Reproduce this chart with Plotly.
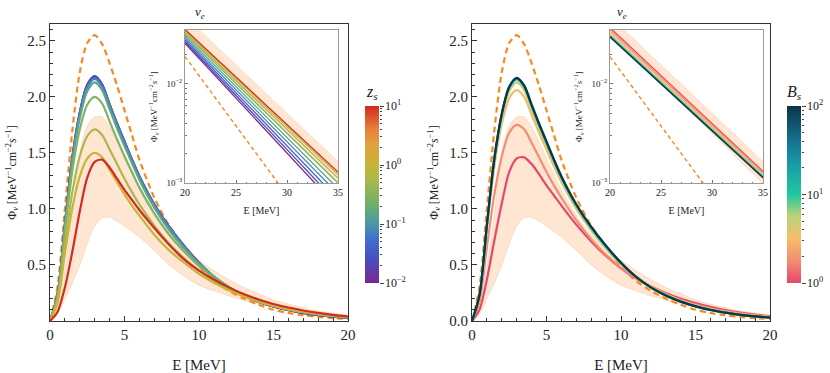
import math
import plotly.graph_objects as go
from plotly.colors import sample_colorscale

# ---- data ----
E = [0, 0.5, 1, 1.5, 2, 2.5, 3, 3.5, 4, 4.5, 5, 5.5, 6, 7, 8, 9, 10, 11, 12, 13, 14, 15, 16, 17, 18, 19, 20]

flux_ref = [0, 0.30, 1.00, 1.70, 2.22, 2.48, 2.55, 2.47, 2.30, 2.10, 1.88, 1.66, 1.44, 1.10, 0.85, 0.66,
            0.49, 0.36, 0.27, 0.20, 0.145, 0.10, 0.072, 0.051, 0.036, 0.026, 0.019]
band_hi = [0, 0.14, 0.48, 0.95, 1.50, 1.74, 1.82, 1.82, 1.73, 1.60, 1.45, 1.31, 1.17, 0.94, 0.77, 0.64,
           0.54, 0.45, 0.37, 0.30, 0.245, 0.19, 0.15, 0.118, 0.09, 0.07, 0.053]
band_lo = [0, 0.06, 0.20, 0.34, 0.50, 0.69, 0.85, 0.92, 0.925, 0.89, 0.85, 0.80, 0.75, 0.63, 0.50, 0.40,
           0.32, 0.27, 0.225, 0.185, 0.155, 0.125, 0.10, 0.08, 0.064, 0.05, 0.04]

z_s = [0.01, 0.02, 0.04, 0.08, 0.15, 0.3, 0.6, 1.0, 10]
flux_z = [
    [0, 0.23, 0.86, 1.46, 1.86, 2.11, 2.185, 2.11, 1.93, 1.76, 1.60, 1.44, 1.29, 1.04, 0.84, 0.67, 0.52, 0.39, 0.295, 0.225, 0.17, 0.128, 0.096, 0.071, 0.053, 0.039, 0.028],
    [0, 0.23, 0.86, 1.46, 1.86, 2.10, 2.18, 2.11, 1.93, 1.76, 1.60, 1.44, 1.29, 1.04, 0.84, 0.67, 0.52, 0.39, 0.297, 0.227, 0.172, 0.13, 0.098, 0.073, 0.054, 0.040, 0.029],
    [0, 0.23, 0.86, 1.45, 1.85, 2.10, 2.175, 2.10, 1.93, 1.76, 1.60, 1.44, 1.29, 1.04, 0.84, 0.67, 0.52, 0.395, 0.30, 0.23, 0.175, 0.133, 0.10, 0.075, 0.056, 0.041, 0.030],
    [0, 0.23, 0.85, 1.44, 1.84, 2.08, 2.16, 2.09, 1.92, 1.75, 1.59, 1.43, 1.28, 1.03, 0.83, 0.66, 0.515, 0.395, 0.30, 0.232, 0.178, 0.136, 0.103, 0.078, 0.058, 0.043, 0.031],
    [0, 0.22, 0.84, 1.42, 1.81, 2.05, 2.13, 2.06, 1.89, 1.72, 1.56, 1.41, 1.26, 1.01, 0.81, 0.65, 0.51, 0.395, 0.305, 0.235, 0.18, 0.138, 0.105, 0.080, 0.060, 0.045, 0.033],
    [0, 0.21, 0.79, 1.34, 1.71, 1.93, 2.00, 1.94, 1.78, 1.62, 1.47, 1.33, 1.19, 0.96, 0.77, 0.62, 0.49, 0.385, 0.30, 0.233, 0.18, 0.138, 0.106, 0.081, 0.062, 0.047, 0.034],
    [0, 0.18, 0.68, 1.15, 1.47, 1.65, 1.71, 1.66, 1.53, 1.40, 1.27, 1.15, 1.04, 0.85, 0.69, 0.56, 0.45, 0.36, 0.285, 0.225, 0.175, 0.135, 0.104, 0.080, 0.062, 0.047, 0.035],
    [0, 0.16, 0.60, 1.01, 1.29, 1.45, 1.50, 1.46, 1.35, 1.24, 1.13, 1.03, 0.94, 0.77, 0.63, 0.52, 0.42, 0.34, 0.275, 0.22, 0.172, 0.134, 0.104, 0.081, 0.063, 0.048, 0.036],
    [0, 0.08, 0.30, 0.62, 0.98, 1.28, 1.42, 1.44, 1.37, 1.27, 1.17, 1.08, 0.99, 0.83, 0.68, 0.55, 0.45, 0.37, 0.30, 0.24, 0.192, 0.152, 0.12, 0.094, 0.072, 0.054, 0.040],
]

B_s = [1, 1.8, 3, 5, 10, 30, 100]
flux_b = [
    [0, 0.10, 0.37, 0.72, 1.05, 1.33, 1.45, 1.46, 1.40, 1.31, 1.21, 1.12, 1.03, 0.86, 0.71, 0.58, 0.47, 0.38, 0.31, 0.25, 0.20, 0.16, 0.126, 0.098, 0.076, 0.058, 0.043],
    [0, 0.17, 0.66, 1.13, 1.47, 1.68, 1.75, 1.71, 1.59, 1.46, 1.33, 1.21, 1.10, 0.90, 0.73, 0.59, 0.475, 0.38, 0.305, 0.24, 0.188, 0.147, 0.114, 0.088, 0.068, 0.052, 0.039],
    [0, 0.22, 0.82, 1.38, 1.76, 1.99, 2.06, 2.00, 1.84, 1.68, 1.53, 1.38, 1.24, 1.00, 0.81, 0.65, 0.51, 0.40, 0.31, 0.237, 0.182, 0.14, 0.107, 0.081, 0.062, 0.047, 0.035],
    [0, 0.22, 0.84, 1.42, 1.81, 2.05, 2.13, 2.06, 1.89, 1.72, 1.56, 1.41, 1.26, 1.01, 0.81, 0.65, 0.51, 0.395, 0.303, 0.232, 0.177, 0.135, 0.102, 0.077, 0.058, 0.043, 0.032],
    [0, 0.23, 0.85, 1.44, 1.84, 2.08, 2.155, 2.09, 1.92, 1.75, 1.59, 1.43, 1.28, 1.03, 0.83, 0.66, 0.515, 0.395, 0.30, 0.23, 0.175, 0.133, 0.10, 0.076, 0.057, 0.042, 0.031],
    [0, 0.23, 0.86, 1.45, 1.85, 2.09, 2.165, 2.10, 1.93, 1.76, 1.60, 1.44, 1.29, 1.04, 0.84, 0.67, 0.52, 0.395, 0.30, 0.229, 0.174, 0.132, 0.099, 0.075, 0.056, 0.041, 0.030],
    [0, 0.23, 0.86, 1.45, 1.85, 2.09, 2.17, 2.10, 1.93, 1.76, 1.60, 1.44, 1.29, 1.04, 0.84, 0.67, 0.52, 0.395, 0.30, 0.228, 0.173, 0.131, 0.098, 0.074, 0.055, 0.041, 0.030],
]

# inset: high-energy tail, 20 -> 35 MeV
E_in = [20, 35]
ref_in = [0.0189, 1.5e-4]
band_hi_in = [0.048, 1.65e-3]
band_lo_in = [0.033, 0.98e-3]
tail_z = [[0.0258, 5.6e-4], [0.0268, 6.2e-4], [0.0280, 6.9e-4], [0.0293, 7.8e-4], [0.0308, 8.8e-4],
          [0.0322, 1.0e-3], [0.0335, 1.12e-3], [0.0345, 1.22e-3], [0.0355, 1.29e-3]]
tail_b = [[0.0370, 1.31e-3], [0.0352, 1.26e-3], [0.0335, 1.22e-3], [0.0318, 1.18e-3],
          [0.0308, 1.16e-3], [0.0302, 1.14e-3], [0.0298, 1.13e-3]]

# ---- styling ----
W, H = 830, 373
FONT = "Liberation Serif"
ORANGE = "#f78a1e"
BAND = "rgba(253,196,150,0.42)"
BAND_EDGE = "rgba(250,190,140,0.55)"

Z_SCALE = [[0, "#7a2890"], [0.13, "#4a4cc0"], [0.25, "#3f6fd0"], [0.333, "#4a98a8"], [0.45, "#70b068"],
           [0.58, "#a8b850"], [0.667, "#c8b438"], [0.78, "#e0a040"], [0.87, "#e8803a"], [1, "#d42a20"]]
B_SCALE = [[0, "#e8466a"], [0.12, "#f38a72"], [0.25, "#f7bd6a"], [0.38, "#b8d27a"], [0.5, "#22c89e"],
           [0.65, "#1aa0a8"], [0.8, "#157391"], [1, "#0c3547"]]


def px_x(p):
    return p / W


def px_y(p):
    return (H - p) / H


def colour(scale, v, lo, hi):
    return sample_colorscale(scale, [(math.log10(v) - lo) / (hi - lo)])[0]


fig = go.Figure()


def add_panel(xa, ya, xi, yi, values, tails, scale, lo, hi):
    # main panel: band, reference, family of curves
    fig.add_trace(go.Scatter(x=E, y=band_lo, xaxis=xa, yaxis=ya, mode="lines",
                             line=dict(color=BAND_EDGE, width=0.8, shape="spline", smoothing=0.8)))
    fig.add_trace(go.Scatter(x=E, y=band_hi, xaxis=xa, yaxis=ya, mode="lines", fill="tonexty",
                             fillcolor=BAND,
                             line=dict(color=BAND_EDGE, width=0.8, shape="spline", smoothing=0.8)))
    fig.add_trace(go.Scatter(x=E, y=flux_ref, xaxis=xa, yaxis=ya, mode="lines",
                             line=dict(color=ORANGE, width=2.2, dash="6px,4px", shape="spline", smoothing=0.8)))
    for v, ys in values:
        fig.add_trace(go.Scatter(x=E, y=ys, xaxis=xa, yaxis=ya, mode="lines",
                                 line=dict(color=colour(scale, v, lo, hi), width=2.2,
                                           shape="spline", smoothing=0.8)))
    # inset
    fig.add_trace(go.Scatter(x=E_in, y=band_lo_in, xaxis=xi, yaxis=yi, mode="lines",
                             line=dict(color=BAND_EDGE, width=0.6)))
    fig.add_trace(go.Scatter(x=E_in, y=band_hi_in, xaxis=xi, yaxis=yi, mode="lines", fill="tonexty",
                             fillcolor=BAND, line=dict(color=BAND_EDGE, width=0.6)))
    fig.add_trace(go.Scatter(x=E_in, y=ref_in, xaxis=xi, yaxis=yi, mode="lines",
                             line=dict(color=ORANGE, width=1.4, dash="4px,3px")))
    for v, ys in tails:
        fig.add_trace(go.Scatter(x=E_in, y=ys, xaxis=xi, yaxis=yi, mode="lines",
                                 line=dict(color=colour(scale, v, lo, hi), width=1.3)))


add_panel("x", "y", "x3", "y3", list(zip(z_s, flux_z)), list(zip(z_s, tail_z)), Z_SCALE, -2, 1)
add_panel("x2", "y2", "x4", "y4", list(zip(B_s, flux_b)), list(zip(B_s, tail_b)), B_SCALE, 0, 2)

# dummy traces carrying the two colour bars, and the tick axes drawn beside them
fig.add_trace(go.Scatter(x=[None], y=[None], xaxis="x", yaxis="y", mode="markers",
                         marker=dict(color=[0], coloraxis="coloraxis")))
fig.add_trace(go.Scatter(x=[None], y=[None], xaxis="x2", yaxis="y2", mode="markers",
                         marker=dict(color=[0], coloraxis="coloraxis2")))
fig.add_trace(go.Scatter(x=[None], y=[None], xaxis="x5", yaxis="y5", mode="markers"))
fig.add_trace(go.Scatter(x=[None], y=[None], xaxis="x6", yaxis="y6", mode="markers"))

YTITLE = "Φ<sub><i>ν</i></sub> [MeV<sup>−1</sup>cm<sup>−2</sup><i>s</i><sup>−1</sup>]"


def main_x(x0, x1, anchor):
    return dict(domain=[px_x(x0), px_x(x1)], range=[0, 20], anchor=anchor, tickvals=[0, 5, 10, 15, 20],
                ticks="inside", ticklen=5, tickcolor="#333", showline=True, mirror=True,
                linecolor="#333", linewidth=1, showgrid=False, zeroline=False, automargin=False,
                minor=dict(ticks="inside", dtick=1, ticklen=3, tickcolor="#333"),
                tickfont=dict(size=15), title=dict(text="E [MeV]", font=dict(size=15), standoff=17))


def main_y(anchor, tv):
    return dict(domain=[px_y(321), px_y(24)], range=[0, 2.65], anchor=anchor, tickvals=tv,
                ticktext=[f"{t:.1f}" for t in tv], ticks="inside", ticklen=5, tickcolor="#333",
                showline=True, mirror=True, linecolor="#333", linewidth=1, showgrid=False,
                zeroline=False, automargin=False,
                minor=dict(ticks="inside", dtick=0.1, ticklen=3, tickcolor="#333"),
                tickfont=dict(size=15), title=dict(text=YTITLE, font=dict(size=12), standoff=8))


minor_log = [k * 1e-3 for k in range(2, 10)] + [2e-2, 3e-2]


def inset_x(x0, x1, anchor):
    return dict(domain=[px_x(x0), px_x(x1)], range=[20, 35], anchor=anchor, tickvals=[20, 25, 30, 35],
                ticks="inside", ticklen=3, tickcolor="#777", showline=True, mirror=True,
                linecolor="#999", linewidth=1, showgrid=False, zeroline=False, automargin=False,
                minor=dict(ticks="inside", dtick=1, ticklen=1.5, tickcolor="#777"),
                tickfont=dict(size=10), title=dict(text="E [MeV]", font=dict(size=10), standoff=9))


def inset_y(anchor):
    return dict(domain=[px_y(183), px_y(30)], type="log", range=[-3, -1.455], anchor=anchor,
                tickvals=[1e-3, 1e-2], ticktext=["10<sup>−3</sup>", "10<sup>−2</sup>"],
                ticks="inside", ticklen=3, tickcolor="#777", showline=True, mirror=True,
                linecolor="#999", linewidth=1, showgrid=False, zeroline=False, automargin=False,
                minor=dict(ticks="inside", tickvals=minor_log, ticklen=1.5, tickcolor="#777"),
                tickfont=dict(size=9), title=dict(text=YTITLE, font=dict(size=9), standoff=7))


def cbar(x0, tv, tt):
    return dict(x=px_x(x0), xanchor="left", xpad=0, ypad=0, y=px_y(194.5), yanchor="middle",
                len=177 / H, lenmode="fraction", thickness=14, outlinewidth=0,
                tickvals=tv, ticktext=tt, ticks="outside", ticklen=4, tickcolor="rgba(0,0,0,0)",
                tickfont=dict(size=12))


def bar_x(x0, anchor):
    return dict(domain=[px_x(x0), px_x(x0 + 14)], anchor=anchor, visible=False, automargin=False)


def bar_y(anchor, rng, majors, minors):
    return dict(domain=[px_y(283), px_y(106)], type="log", range=rng, anchor=anchor, side="right",
                tickvals=majors, showticklabels=False, ticks="outside", ticklen=3.5, tickcolor="#444",
                showline=False, showgrid=False, zeroline=False, automargin=False,
                minor=dict(ticks="outside", tickvals=minors, ticklen=2, tickcolor="#444"))


z_minor = [k * 10.0 ** p for p in (-2, -1, 0) for k in range(2, 10)]
b_minor = [k * 10.0 ** p for p in (0, 1) for k in range(2, 10)]

fig.update_layout(
    width=W, height=H, margin=dict(l=0, r=0, t=0, b=0, autoexpand=False),
    paper_bgcolor="white", plot_bgcolor="white", showlegend=False,
    font=dict(family=FONT, color="#222", size=12),
    xaxis=main_x(50, 348, "y"), yaxis=main_y("x", [0.5, 1.0, 1.5, 2.0, 2.5]),
    xaxis2=main_x(472, 770, "y2"), yaxis2=main_y("x2", [0.0, 0.5, 1.0, 1.5, 2.0, 2.5]),
    xaxis3=inset_x(185, 338, "y3"), yaxis3=inset_y("x3"),
    xaxis4=inset_x(610, 763, "y4"), yaxis4=inset_y("x4"),
    xaxis5=bar_x(365, "y5"), yaxis5=bar_y("x5", [-2, 1], [0.01, 0.1, 1, 10], z_minor),
    xaxis6=bar_x(787, "y6"), yaxis6=bar_y("x6", [0, 2], [1, 10, 100], b_minor),
    coloraxis=dict(cmin=-2, cmax=1, colorscale=Z_SCALE,
                   colorbar=cbar(365, [-2, -1, 0, 1],
                                 ["10<sup>−2</sup>", "10<sup>−1</sup>", "10<sup>0</sup>", "10<sup>1</sup>"])),
    coloraxis2=dict(cmin=0, cmax=2, colorscale=B_SCALE,
                    colorbar=cbar(787, [0, 1, 2], ["10<sup>0</sup>", "10<sup>1</sup>", "10<sup>2</sup>"])),
)

# white background under each inset so the main curves do not show through
for xr, yr in (("x3", "y3"), ("x4", "y4")):
    fig.add_shape(type="rect", xref=f"{xr} domain", yref=f"{yr} domain", x0=0, x1=1, y0=0, y1=1,
                  fillcolor="white", line=dict(width=0), layer="below")

for xc in (200, 622):
    fig.add_annotation(text="<i>ν<sub>e</sub></i>", x=px_x(xc), y=px_y(12), xref="paper", yref="paper",
                       xanchor="center", yanchor="middle", showarrow=False, font=dict(size=13))

# colour bar titles
for xc, txt in ((372, "<i>z<sub>s</sub></i>"), (794, "<i>B<sub>s</sub></i>")):
    fig.add_annotation(text=txt, x=px_x(xc), y=px_y(92), xref="paper", yref="paper",
                       xanchor="center", yanchor="middle", showarrow=False, font=dict(size=16))

# the page body has a default 8px margin; drop it so the figure fills the window
fig.write_html("out.html", config={"displayModeBar": False},
               post_script="document.body.style.margin='0';")
